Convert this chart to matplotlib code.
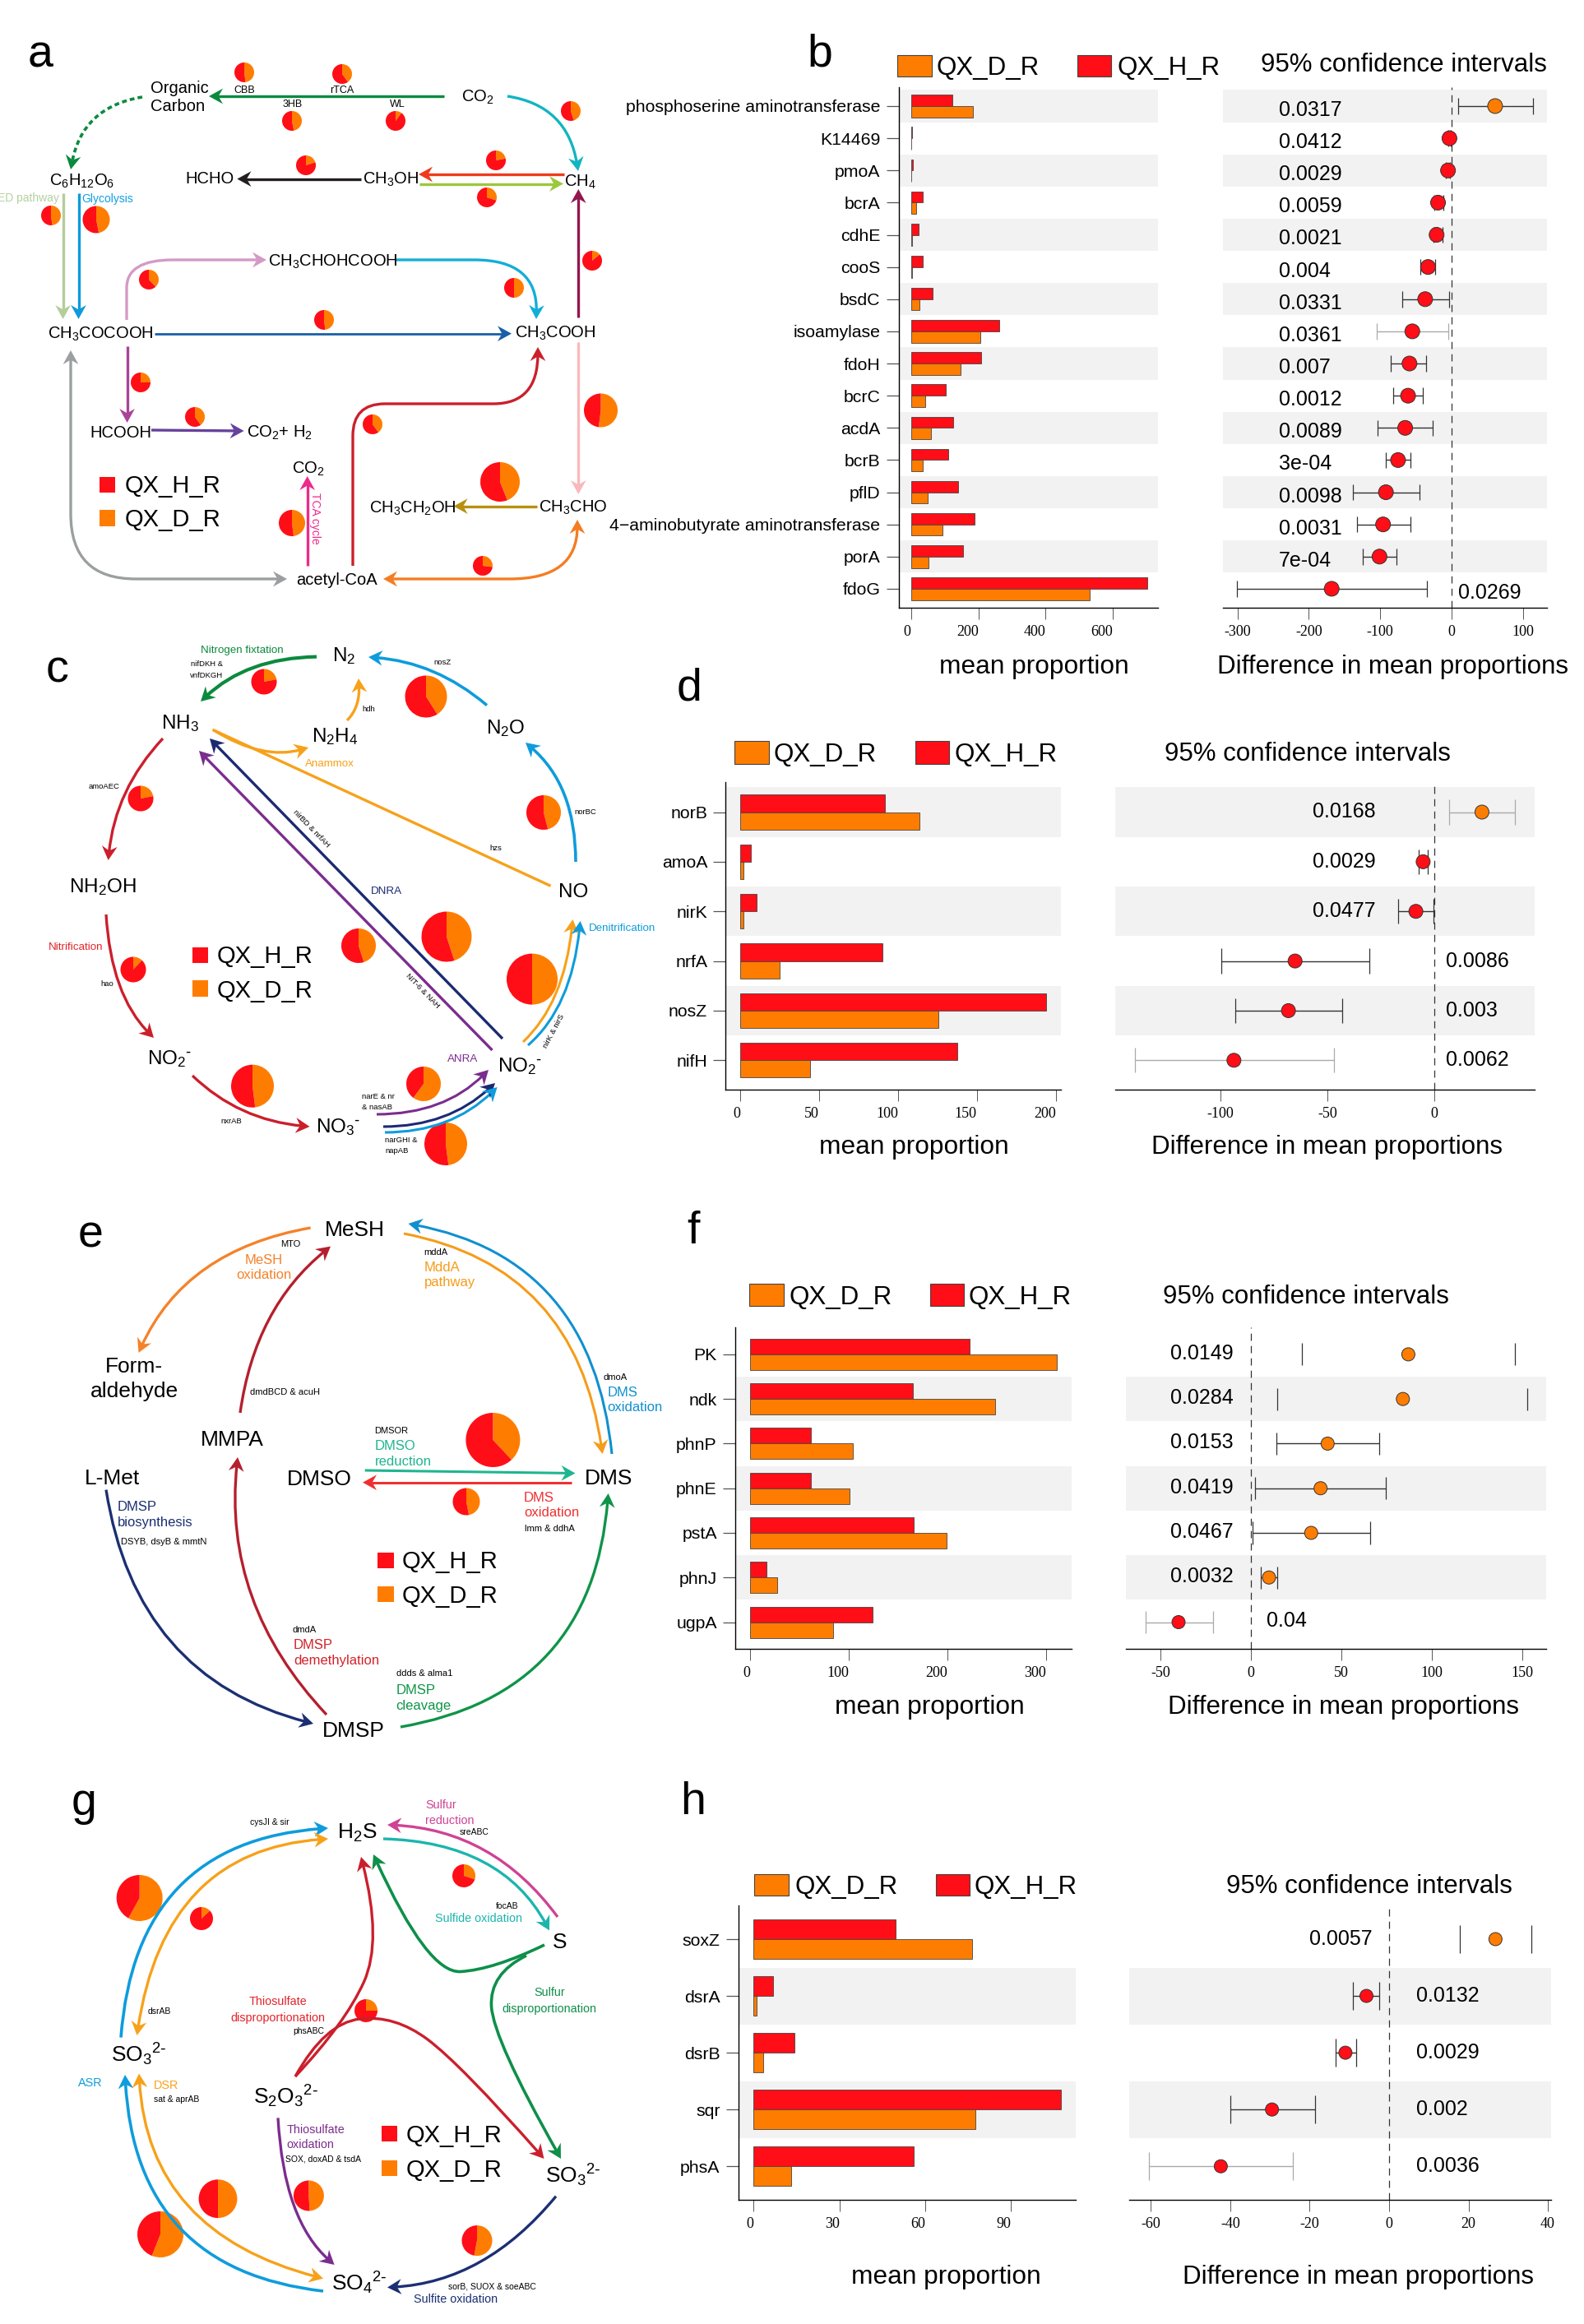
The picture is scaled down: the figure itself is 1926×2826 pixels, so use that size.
import numpy as np
import matplotlib
matplotlib.use('Agg')
import matplotlib.pyplot as plt
from matplotlib.path import Path
from matplotlib.patches import PathPatch, Polygon, Rectangle

plt.rcParams['font.family'] = ['Liberation Sans', 'DejaVu Sans']
plt.rcParams['mathtext.default'] = 'regular'

W, H = 1926, 2826
RED = '#ff0e17'
ORANGE = '#fe7d00'

# ---- panel b data
b_genes = ['phosphoserine aminotransferase', 'K14469', 'pmoA', 'bcrA', 'cdhE', 'cooS', 'bsdC',
           'isoamylase', 'fdoH', 'bcrC', 'acdA', 'bcrB', 'pflD',
           '4\u2212aminobutyrate aminotransferase', 'porA', 'fdoG']
b_h = [124, 4, 6, 35, 22, 35, 65, 262, 209, 103, 126, 111, 140, 190, 155, 702]
b_d = [183, 2, 2, 15, 3, 3, 26, 207, 148, 42, 59, 35, 50, 94, 52, 530]
b_diff = [61, -3, -5, -19, -21, -33, -37, -55, -59, -61, -65, -75, -92, -96, -101, -168]
b_lo = [9, -5, -8, -24, -25, -44, -69, -105, -85, -82, -104, -92, -138, -133, -125, -301]
b_hi = [114, -1, -2, -11, -13, -23, -3, -5, -36, -40, -27, -58, -45, -58, -77, -34]
b_p = ['0.0317', '0.0412', '0.0029', '0.0059', '0.0021', '0.004', '0.0331', '0.0361', '0.007',
       '0.0012', '0.0089', '3e-04', '0.0098', '0.0031', '7e-04', '0.0269']

# ---- panel d data
d_genes = ['norB', 'amoA', 'nirK', 'nrfA', 'nosZ', 'nifH']
d_h = [91.8, 6.9, 10.7, 90.3, 193.9, 137.5]
d_d = [113.9, 2.3, 2.3, 25.1, 125.7, 44.2]
d_diff = [22.2, -5.3, -8.7, -65.2, -68.3, -93.8]
d_lo = [6.7, -7.3, -17.1, -99.7, -93.3, -140.2]
d_hi = [37.6, -3.1, -0.3, -30.6, -43.3, -46.9]
d_p = ['0.0168', '0.0029', '0.0477', '0.0086', '0.003', '0.0062']

# ---- panel f data
f_genes = ['PK', 'ndk', 'phnP', 'phnE', 'pstA', 'phnJ', 'ugpA']
f_h = [223, 165, 61.7, 62, 166, 17, 124]
f_d = [311, 248.5, 104, 100.6, 199, 27.5, 84]
f_diff = [87, 84, 42.4, 38.5, 33.3, 10, -40]
f_lo = [28, 14.7, 14, 2.3, 1, 5.5, -58]
f_hi = [146, 152.7, 71, 74.7, 66, 14.7, -21]
f_p = ['0.0149', '0.0284', '0.0153', '0.0419', '0.0467', '0.0032', '0.04']

# ---- panel h data
h_genes = ['soxZ', 'dsrA', 'dsrB', 'sqr', 'phsA']
h_h = [49.5, 6.8, 14.2, 107.3, 55.9]
h_d = [76.4, 1, 3.3, 77.6, 13]
h_diff = [26.8, -5.7, -11, -29.5, -42.4]
h_lo = [17.9, -9.2, -13.5, -40, -60.6]
h_hi = [35.9, -2.4, -8.2, -18.6, -24.3]
h_p = ['0.0057', '0.0132', '0.0029', '0.002', '0.0036']

# ---- orange share of each pathway pie
a_share = [.48, .40, .47, .10, .45, .20, .22, .30, .48, .47, .38, .50, .14, .48, .25, .40, .40, .52, .44, .48, .27]
c_share = [.22, .41, .22, .46, .12, .45, .45, .50, .48, .60, .48]
e_share = [.38, .47]
g_share = [.58, .13, .30, .25, .50, .56, .49, .53]

# pie centres and radii in pixels
a_pos = [(297, 88, 12), (416, 90, 12), (355, 147, 12), (481, 147, 12), (694, 135, 12), (372, 201, 12),
         (603, 195, 12), (592, 240, 12), (62, 262, 12), (117, 267, 16.5), (181, 340, 12), (625, 350, 12),
         (720, 317, 12), (394, 389, 12), (171, 465, 12), (237, 507, 12), (453, 516, 12), (730.5, 499, 20.5),
         (608, 586, 24), (355, 636, 16), (587, 688, 12)]
c_pos = [(321, 829, 15.5), (518, 847, 25.5), (171, 971, 15.5), (661, 988, 21), (162, 1179, 15.5), (436, 1150, 21),
         (543, 1139, 30.5), (647, 1190.6, 31), (307, 1320.7, 26), (515, 1318, 21), (542, 1391, 26)]
e_pos = [(599.4, 1751, 33), (567, 1826, 16.5)]
g_pos = [(169.7, 2308, 28), (245, 2333, 14), (564, 2281, 14), (445, 2445, 14), (265, 2673.7, 23.4),
         (195, 2717, 28), (375.4, 2670, 18.5), (580, 2724.6, 18.5)]

fig = plt.figure(figsize=(W / 100, H / 100), dpi=100, facecolor='white')
ov = fig.add_axes([0, 0, 1, 1], zorder=5)
ov.patch.set_visible(False)
ov.set_xlim(0, W)
ov.set_ylim(H, 0)


def T(x, y, s, size=8, color='black', ha='left', rot=None):
    # y is the middle of the capitals, in pixels
    if rot is not None:
        ov.text(x, y, s, fontsize=size, color=color, ha='center', va='center', rotation=rot,
                rotation_mode='anchor')
    else:
        ov.text(x, y + 0.358 * size * 100 / 72, s, fontsize=size, color=color, ha=ha, va='baseline')


def spline(pts):
    pts = np.array(pts, float)
    if len(pts) == 2:
        return Path(pts)
    verts = [pts[0]]
    codes = [Path.MOVETO]
    for i in range(1, len(pts) - 1):
        end = pts[-1] if i == len(pts) - 2 else (pts[i] + pts[i + 1]) / 2
        verts += [pts[i], end]
        codes += [Path.CURVE3, Path.CURVE3]
    return Path(verts, codes)


def head(tip, before, color, hl):
    tip = np.array(tip, float)
    d = tip - np.array(before, float)
    d = d / np.hypot(*d)
    n = np.array([-d[1], d[0]])
    ov.add_patch(Polygon([tip, tip - hl * d + 0.55 * hl * n, tip - 0.68 * hl * d, tip - hl * d - 0.55 * hl * n],
                         closed=True, fc=color, ec='none', zorder=3))


def arrow(pts, color, lw=2.4, tip=True, back=False, ls='-', hl=17):
    pts = [np.array(p, float) for p in pts]
    if tip:
        head(pts[-1], pts[-2], color, hl)
        d = pts[-1] - pts[-2]
        pts[-1] = pts[-1] - 0.5 * hl * d / np.hypot(*d)
    if back:
        head(pts[0], pts[1], color, hl)
        d = pts[0] - pts[1]
        pts[0] = pts[0] - 0.5 * hl * d / np.hypot(*d)
    ov.add_patch(PathPatch(spline(pts), fc='none', ec=color, lw=lw, ls=ls, capstyle='butt', zorder=2))


def pies(pos, share):
    for (x, y, r), o in zip(pos, share):
        # y axis is inverted, so startangle 270 is twelve o'clock and the wedges run clockwise
        ov.pie([o, 1 - o], colors=[ORANGE, RED], center=(x, y), radius=r, startangle=270,
               frame=True, wedgeprops={'linewidth': 0})


def square_key(x0, x1, y0, y1, color, ec='none'):
    ov.add_patch(Rectangle((x0, y0), x1 - x0, y1 - y0, fc=color, ec=ec, lw=0.8))


def key(x0, x1, rows, tx, size=21):
    for (y0, y1, ty), name, col in zip(rows, ['QX_H_R', 'QX_D_R'], [RED, ORANGE]):
        square_key(x0, x1, y0, y1, col)
        T(tx, ty, name, size)


def panel(genes, h, d, diff, lo, hi, p, bar_px, ci_px, y_px, stripe_from, bar_ticks, ci_ticks,
          p_left, p_right, right_rows, p_dy=0, ms=18, no_line=(), faint=(), gene_size=15.3):
    n = len(genes)
    rows = np.arange(n)
    top, bottom, row0, pitch = y_px
    ylim = ((bottom - row0) / pitch, (top - row0) / pitch)

    # bars
    l, r, zero, sc = bar_px
    ax = fig.add_axes([l / W, 1 - bottom / H, (r - l) / W, (bottom - top) / H])
    ax.set_xlim((l - zero) / sc, (r - zero) / sc)
    ax.set_ylim(*ylim)
    for i in range(stripe_from, n, 2):
        ax.axhspan(i - 0.5, i + 0.5, color='#f2f2f2', lw=0, zorder=0)
    ax.barh(rows - 0.175, h, 0.35, color=RED, edgecolor='#444444', linewidth=0.6, zorder=2)
    ax.barh(rows + 0.175, d, 0.35, color=ORANGE, edgecolor='#444444', linewidth=0.6, zorder=2)
    ax.set_yticks(rows, genes, fontsize=gene_size)
    ax.set_xticks(bar_ticks, [str(t) for t in bar_ticks], fontsize=13, family='Liberation Serif')
    for lab in ax.get_xticklabels():
        lab.set_ha('right')
    ax.tick_params(axis='x', length=10, width=0.7, color='#555555', pad=5)
    ax.tick_params(axis='y', length=11, width=0.9, color='#555555', pad=5)
    for s in ['top', 'right']:
        ax.spines[s].set_visible(False)
    ax.spines['left'].set_linewidth(1)
    ax.spines['bottom'].set_linewidth(1)

    # confidence intervals
    l, r, zero, sc = ci_px
    cx = fig.add_axes([l / W, 1 - bottom / H, (r - l) / W, (bottom - top) / H])
    cx.set_xlim((l - zero) / sc, (r - zero) / sc)
    cx.set_ylim(*ylim)
    for i in range(stripe_from, n, 2):
        cx.axhspan(i - 0.5, i + 0.5, color='#f2f2f2', lw=0, zorder=0)
    cx.axvline(0, color='#333333', lw=0.9, ls=(0, (7, 5)), zorder=1)
    for i in rows:
        col = '#aaaaaa' if i in faint else '#333333'
        if i not in no_line:
            cx.hlines(i, lo[i], hi[i], color=col, lw=1.0, zorder=2)
        cx.vlines([lo[i], hi[i]], i - 0.25, i + 0.25, color=col, lw=0.9, zorder=2)
    cols = [ORANGE if v > 0 else RED for v in diff]
    cx.scatter(diff, rows, s=(ms * 0.72) ** 2, c=cols, edgecolors='#333333', linewidths=0.7, zorder=3)
    cx.set_yticks([])
    cx.set_xticks(ci_ticks, [str(t) for t in ci_ticks], fontsize=13, family='Liberation Serif')
    cx.tick_params(axis='x', length=10, width=0.7, color='#555555', pad=5)
    for s in ['top', 'right', 'left']:
        cx.spines[s].set_visible(False)
    cx.spines['bottom'].set_linewidth(1)

    for i in rows:
        T(p_right if i in right_rows else p_left, row0 + i * pitch + p_dy, p[i], 18)


def top_row(sq1, sq2, ky, t1, t2, title_x, title_y, mp_x, df_x, lab_y):
    square_key(sq1[0], sq1[1], ky[0], ky[1], ORANGE, '#444444')
    T(t1, (ky[0] + ky[1]) / 2, 'QX_D_R', 22.5)
    square_key(sq2[0], sq2[1], ky[0], ky[1], RED, '#444444')
    T(t2, (ky[0] + ky[1]) / 2, 'QX_H_R', 22.5)
    T(title_x, title_y, '95% confidence intervals', 22.5)
    T(mp_x, lab_y, 'mean proportion', 22.8)
    T(df_x, lab_y, 'Difference in mean proportions', 22.5)


# ---- bar / CI panels
panel(b_genes, b_h, b_d, b_diff, b_lo, b_hi, b_p, (1092.5, 1408, 1107.6, 0.4096), (1486.6, 1881.4, 1765, 0.868),
      (105.5, 739, 129, 39.13), 0, [0, 200, 400, 600], [-300, -200, -100, 0, 100],
      1554.7, 1773, {15}, p_dy=3, ms=18, faint=(7,))
top_row((1091, 1133.3), (1310.4, 1351), (66.7, 93.3), 1138.6, 1358, 1532.7, 76, 1141.7, 1479.8, 808)

panel(d_genes, d_h, d_d, d_diff, d_lo, d_hi, d_p, (882.3, 1290.2, 899.9, 1.919), (1356, 1865.5, 1744.2, 2.6),
      (950.7, 1325.4, 987.5, 60.36), 0, [0, 50, 100, 150, 200], [-100, -50, 0],
      1595.8, 1758, {3, 4, 5}, p_dy=-2, ms=17, faint=(0, 5))
top_row((892.6, 935), (1112.6, 1154.3), (901.4, 928.6), 940.8, 1160, 1416, 913.6, 996, 1400, 1392)

panel(f_genes, f_h, f_d, f_diff, f_lo, f_hi, f_p, (894, 1302.7, 912, 1.199), (1368.8, 1880, 1521, 2.2),
      (1614.4, 2004.7, 1646.9, 54.27), 1, [0, 100, 200, 300], [-50, 0, 50, 100, 150],
      1423.3, 1540.4, {6}, p_dy=-3, ms=16, no_line=(0, 1), faint=(6,))
top_row((911, 953), (1131, 1172), (1561.4, 1587.7), 959.4, 1177.7, 1414, 1573.6, 1015.4, 1419.7, 2072.7)

panel(h_genes, h_h, h_d, h_diff, h_lo, h_hi, h_p, (897.7, 1307.7, 916.3, 3.479), (1373, 1885.8, 1689, 4.826),
      (2316.6, 2675.3, 2358, 69.05), 1, [0, 30, 60, 90], [-60, -40, -20, 0, 20, 40],
      1592, 1722, {1, 2, 3, 4}, p_dy=-2, ms=16, no_line=(0,), faint=(4,))
top_row((917, 959.4), (1137.5, 1178.5), (2278.5, 2305), 966.6, 1185, 1490.8, 2290.4, 1034.8, 1438.4, 2766)

# ---- panel letters
for x, y, s in [(34, 62, 'a'), (997, 61, 'b'), (56, 810, 'c'), (838, 832, 'd'), (95, 1497, 'e'),
                (843, 1492, 'f'), (87, 2187, 'g'), (843, 2186, 'h')]:
    T(x, y, s, 40, ha='center' if s in 'bdfh' else 'left')

# ---- a: carbon
GREEN = '#0b8a3e'
arrow([(539.5, 117), (254, 117)], GREEN)
arrow([(173, 118), (100, 130), (86, 206)], GREEN, lw=2.6, ls=(0, (1.6, 1.1)))
arrow([(617, 117), (690, 128), (703, 208)], '#12b5c0')
arrow([(438.7, 217.6), (288.4, 217.6)], '#231f20')
arrow([(686, 212), (509, 212)], '#f03a1c')
arrow([(510.4, 223.5), (685, 223.5)], '#9cc83c')
arrow([(703.3, 386), (703.3, 230)], '#93174f')
arrow([(703.3, 416), (703.3, 601)], '#f9b9bb')
arrow([(76.6, 235), (76.6, 388)], '#b3cd9c')
arrow([(95.5, 235), (95.5, 388)], '#0e9bdc')
arrow([(187.6, 405.7), (622, 405.7)], '#1a5fa8', lw=2)
arrow([(154, 389), (154, 384), (154, 316), (266, 316), (324, 316)], '#d49ac5')
arrow([(481, 316), (500, 316), (654, 316), (652, 388)], '#12aed8')
arrow([(154.6, 421), (154.6, 514)], '#a9449a')
arrow([(184, 523), (296.6, 524)], '#65429c')
arrow([(373.7, 688), (373.7, 579)], '#ee2a8b')
arrow([(86, 426), (86, 546), (86, 704), (244, 704), (349, 704)], '#9b9fa0', back=True)
arrow([(429, 688), (429, 569), (429, 491), (507, 491), (546, 491), (654, 491), (654, 422)], '#cb1f2c')
arrow([(466, 704), (538, 704), (702, 704), (702, 632)], '#f57c22', back=True)
arrow([(653, 615.6), (551.6, 615.6)], '#b8900f')
pies(a_pos, a_share)

for x, y, s in [(183, 106, 'Organic'), (183, 128, 'Carbon'), (561, 116, 'CO$_2$'), (60, 218, 'C$_6$H$_{12}$O$_6$'),
                (58, 404, 'CH$_3$COCOOH'), (626, 403, 'CH$_3$COOH'), (326, 316, 'CH$_3$CHOHCOOH'), (686, 219, 'CH$_4$'),
                (441, 216, 'CH$_3$OH'), (225.4, 216, 'HCHO'), (109, 524.5, 'HCOOH'), (299.6, 524.5, 'CO$_2$+ H$_2$'),
                (355, 568, 'CO$_2$'), (360, 704, 'acetyl-CoA'), (449, 616, 'CH$_3$CH$_2$OH'), (655, 615, 'CH$_3$CHO')]:
    T(x, y, s, 14.5)
for x, y, s in [(297, 108.6, 'CBB'), (416, 108.6, 'rTCA'), (356, 126, '3HB'), (483, 126, 'WL')]:
    T(x, y, s, 9, ha='center')
T(72, 240, 'ED pathway', 10, '#b3d19f', ha='right')
T(99, 241, 'Glycolysis', 10, '#0f9fe0')
T(383, 630, 'TCA cycle', 10, '#ee2a8b', rot=-90)
key(121, 140, [(580, 599, 589), (620, 640, 630)], 152)

# ---- c: nitrogen
BLUE = '#0e9cdc'
AMBER = '#f7a11a'
NAVY = '#1b2a72'
PURPLE = '#7b2d8e'
CRED = '#cb1f2c'
arrow([(385, 798.6), (300, 800), (244, 853)], GREEN, lw=3)
arrow([(592, 857.6), (530, 805), (448, 799)], BLUE, lw=2.6)
arrow([(422, 876), (438, 860), (436, 825)], AMBER, lw=2.4)
arrow([(700, 1048), (700, 955), (639, 903)], BLUE, lw=2.6)
ov.plot([668, 260], [1076.6, 888], color=AMBER, lw=2.4, zorder=2)
arrow([(260, 888), (320, 925), (375, 909)], AMBER, lw=2.4)
arrow([(611, 1263), (255, 898)], NAVY, lw=2.4)
arrow([(598.5, 1277), (242, 913)], PURPLE, lw=2.4)
arrow([(198, 898), (140, 960), (131.6, 1046)], CRED, lw=2.4)
arrow([(129, 1112), (135, 1210), (187, 1262)], CRED, lw=2.4)
arrow([(234, 1308), (290, 1362), (376.5, 1370)], CRED, lw=2.4)
arrow([(458, 1355), (540, 1355), (594, 1301)], PURPLE, lw=2.2)
arrow([(466, 1370), (545, 1370), (602, 1317)], NAVY, lw=2.2)
arrow([(468, 1377), (548, 1377), (604.6, 1322)], BLUE, lw=2.2)
arrow([(636, 1267), (686, 1220), (696.4, 1118)], AMBER, lw=2.2)
arrow([(642, 1271), (695, 1225), (705.6, 1120)], BLUE, lw=2.2)
pies(c_pos, c_share)

MINUS = '$^{\\text{-}}$'
for x, y, s in [(404, 795, 'N$_2$'), (196.4, 877, 'NH$_3$'), (379, 893.6, 'N$_2$H$_4$'), (591, 883, 'N$_2$O'),
                (679, 1082, 'NO'), (83.7, 1076, 'NH$_2$OH'), (179, 1285.6, 'NO$_2$' + MINUS),
                (384, 1368.4, 'NO$_3$' + MINUS), (605, 1294, 'NO$_2$' + MINUS)]:
    T(x, y, s, 17.5)
T(294, 789.5, 'Nitrogen fixtation', 9.6, '#0b8a3e', ha='center')
T(400.5, 927, 'Anammox', 9.6, AMBER, ha='center')
T(470, 1082.6, 'DNRA', 9.6, NAVY, ha='center')
T(563, 1286.5, 'ANRA', 9.6, PURPLE, ha='center')
T(716, 1127, 'Denitrification', 9.6, BLUE)
T(92, 1150, 'Nitrification', 9.6, '#e3242b', ha='center')
for x, y, s in [(251, 807, 'nifDKH &'), (251, 821, 'vnfDKGH'), (538, 805, 'nosZ'), (448, 862, 'hdh'),
                (126.5, 955.6, 'amoAEC'), (712, 987, 'norBC'), (603, 1030.6, 'hzs'), (130, 1196, 'hao'),
                (281, 1363, 'nxrAB')]:
    T(x, y, s, 6.8, ha='center')
for x, y, s in [(440, 1333, 'narE & nr'), (440, 1346, '& nasAB'), (468, 1386, 'narGHI &'), (468, 1399, 'napAB')]:
    T(x, y, s, 6.8)
T(378, 1008, 'nirBD & nrfAH', 6.8, rot=-46)
T(514, 1205, 'NIT-6 & NAH', 6.8, rot=-46)
T(673.5, 1253.5, 'nirK & nirS', 6.8, rot=62)
key(233.7, 253, [(1152, 1171, 1161), (1192, 1212, 1203)], 264)

# ---- e: sulfur (DMS)
arrow([(377.6, 1493), (225, 1520), (168.5, 1645)], '#f5822a')
arrow([(292, 1718), (310, 1590), (402, 1515.6)], '#b51f2d')
arrow([(744, 1768), (720, 1530), (496.5, 1488)], '#1090cf', lw=2.2)
arrow([(491, 1500), (700, 1540), (732.5, 1768)], '#f59c1a', lw=2.2)
arrow([(443.7, 1788), (699.5, 1791.5)], '#1fb58f', lw=2.2)
arrow([(695, 1802.7), (441, 1802.7)], '#f03030', lw=2.2)
arrow([(129, 1811.6), (165, 2040), (381, 2096)], '#1b2f73')
arrow([(397, 2085), (270, 1950), (289, 1772)], '#b51f2d')
arrow([(487, 2100), (720, 2060), (739.6, 1816)], '#0e9448')
pies(e_pos, e_share)

for x, y, s in [(394.6, 1494, 'MeSH'), (244, 1749, 'MMPA'), (102.5, 1796, 'L-Met'), (349, 1797, 'DMSO'),
                (711, 1796, 'DMS'), (392, 2103, 'DMSP')]:
    T(x, y, s, 19)
T(163, 1660, 'Form-', 19, ha='center')
T(163, 1690, 'aldehyde', 19, ha='center')
T(320.5, 1531, 'MeSH', 12, '#f5822a', ha='center')
T(320.5, 1549, 'oxidation', 12, '#f5822a', ha='center')
T(353, 1512.5, 'MTO', 8, ha='center')
for x, y, s, c in [(516, 1540, 'MddA', '#f59c1a'), (516, 1558.5, 'pathway', '#f59c1a'),
                   (738.6, 1692, 'DMS', '#1090cf'), (738.6, 1710, 'oxidation', '#1090cf'),
                   (455.5, 1757, 'DMSO', '#1fb58f'), (455.5, 1776, 'reduction', '#1fb58f'),
                   (637, 1819.6, 'DMS', '#f03030'), (637, 1838, 'oxidation', '#f03030'),
                   (142.6, 1831, 'DMSP', '#1b2f73'), (142.6, 1850, 'biosynthesis', '#1b2f73'),
                   (357, 1998.6, 'DMSP', '#d2232a'), (357, 2018, 'demethylation', '#d2232a'),
                   (481.4, 2054, 'DMSP', '#0e9448'), (481.4, 2072.8, 'cleavage', '#0e9448')]:
    T(x, y, s, 12, c)
for x, y, s in [(515.4, 1522, 'mddA'), (304, 1692, 'dmdBCD & acuH'), (733.4, 1674, 'dmoA'), (455.5, 1739, 'DMSOR'),
                (638, 1858.5, 'lmm & ddhA'), (147.3, 1874, 'DSYB, dsyB & mmtN'), (355, 1981, 'dmdA'),
                (482, 2034, 'ddds & alma1')]:
    T(x, y, s, 8)
key(458.8, 478.6, [(1888.4, 1906.7, 1897), (1929, 1947.8, 1939)], 489)

# ---- g: sulfur
arrow([(147, 2477.6), (165, 2240), (399, 2223)], BLUE, lw=2.6)
arrow([(166.5, 2475), (200, 2250), (399, 2236)], AMBER, lw=2.4, back=True)
arrow([(466, 2236), (610, 2240), (668, 2347.4)], '#1cb5ad', lw=2.4)
arrow([(678, 2331), (600, 2225), (471, 2219)], '#cf4395', lw=2.4)
arrow([(662, 2365), (600, 2395), (520, 2400), (454, 2255)], '#0e8f4a', lw=2.6)
arrow([(640, 2378), (595, 2400), (600, 2480), (682, 2625)], '#0e8f4a', lw=2.6)
arrow([(359, 2525), (420, 2460), (465, 2360), (439, 2258)], CRED, lw=2.4)
arrow([(359, 2525), (395, 2460), (480, 2450), (560, 2510), (661.5, 2625)], CRED, lw=2.4)
arrow([(338, 2575.4), (345, 2700), (406.6, 2754)], PURPLE, lw=2.4)
arrow([(393, 2786), (165, 2760), (152, 2523)], BLUE, lw=2.6)
arrow([(393, 2770.7), (180, 2715), (169, 2521.5)], AMBER, lw=2.4, back=True)
arrow([(676, 2670.7), (590, 2775), (471, 2781.5)], '#1b2f73', lw=2.4)
pies(g_pos, g_share)

TWO_MINUS = '$^{2\\text{-}}$'
for x, y, s in [(410.3, 2226, 'H$_2$S'), (671.6, 2360, 'S'), (134.8, 2498, 'SO$_3$' + TWO_MINUS),
                (308, 2548.7, 'S$_2$O$_3$' + TWO_MINUS), (662.8, 2644.8, 'SO$_3$' + TWO_MINUS),
                (403.4, 2776, 'SO$_4$' + TWO_MINUS)]:
    T(x, y, s, 19)
for x, y, s, c in [(517.3, 2193.5, 'Sulfur', '#cf4395'), (517.3, 2212.5, 'reduction', '#cf4395'),
                   (348.3, 2589, 'Thiosulfate', PURPLE), (348.3, 2607, 'oxidation', PURPLE),
                   (503, 2795, 'Sulfite oxidation', '#1b2f73')]:
    T(x, y, s, 10.4, c)
for x, y, s, c in [(582, 2332, 'Sulfide oxidation', '#1cb5ad'), (668, 2422, 'Sulfur', '#0e8f4a'),
                   (668, 2442, 'disproportionation', '#0e8f4a'), (337.8, 2432.8, 'Thiosulfate', '#e3242b'),
                   (337.8, 2452.6, 'disproportionation', '#e3242b'), (110, 2531.5, 'ASR', BLUE), (202, 2534.5, 'DSR', AMBER)]:
    T(x, y, s, 10.4, c, ha='center')
for x, y, s in [(327.7, 2215, 'cysJI & sir'), (617, 2317, 'focAB'), (375.4, 2469.4, 'phsABC'), (193.6, 2445.7, 'dsrAB'),
                (215, 2552, 'sat & aprAB')]:
    T(x, y, s, 7.5, ha='center')
for x, y, s in [(558.6, 2227.6, 'sreABC'), (347.4, 2625, 'SOX, doxAD & tsdA'), (545.3, 2780, 'sorB, SUOX & soeABC')]:
    T(x, y, s, 7.5)
key(463.6, 483, [(2585, 2604, 2595), (2627, 2646, 2637)], 494)

ov.set_xlim(0, W)
ov.set_ylim(H, 0)
ov.set_xticks([])
ov.set_yticks([])
ov.axis('off')

fig.savefig('out.png', dpi=100, facecolor='white')
